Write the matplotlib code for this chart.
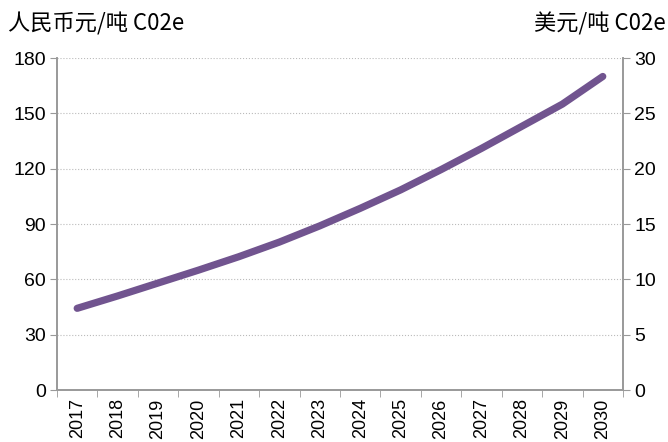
import matplotlib.pyplot as plt
import numpy as np

years = ['2017', '2018', '2019', '2020', '2021', '2022', '2023',
         '2024', '2025', '2026', '2027', '2028', '2029', '2030']
price_cny = [44.3, 51, 58, 65, 72.3, 80.2, 89, 98.5, 108.5, 119.5, 131, 143, 155, 170]
cny_ticks = [0, 30, 60, 90, 120, 150, 180]
usd_ticks = [0, 5, 10, 15, 20, 25, 30]

cjk = ['Noto Sans CJK SC', 'DejaVu Sans']
plt.rcParams['font.family'] = ['Liberation Sans', 'DejaVu Sans']

fig = plt.figure(figsize=(6.68, 4.42), dpi=100)
ax = fig.add_axes([0.0853, 0.1176, 0.8473, 0.7511])
x = np.arange(len(years))
ax.plot(x, price_cny, color='#71548f', linewidth=5.2, solid_capstyle='round',
        solid_joinstyle='round')

ax.set_xlim(-0.5, len(years) - 0.5)
ax.set_ylim(cny_ticks[0], cny_ticks[-1])
ax.set_yticks(cny_ticks)
ax.set_xticks(x)
ax.set_xticklabels(years, rotation=90)
ax.set_xticks(np.arange(len(years) + 1) - 0.5, minor=True)
ax.tick_params(axis='x', which='major', length=0, pad=6, labelsize=13)
ax.tick_params(axis='x', which='minor', length=5, color='#999999')
ax.tick_params(axis='y', length=5, color='#999999', labelsize=14, pad=3)
ax.grid(axis='y', color='#bbbbbb', linestyle=':', linewidth=0.8)

ax2 = ax.twinx()
ax2.set_ylim(usd_ticks[0], usd_ticks[-1])
ax2.set_yticks(usd_ticks)
ax2.tick_params(axis='y', length=5, color='#999999', labelsize=14, pad=3)

for a in (ax, ax2):
    a.spines['top'].set_visible(False)
    for s in ('left', 'right', 'bottom'):
        a.spines[s].set_color('#999999')
        a.spines[s].set_linewidth(1.2)

fig.text(0.012, 0.945, '人民币元/吨 C02e', family=cjk, fontsize=16, va='center', ha='left')
fig.text(0.996, 0.945, '美元/吨 C02e', family=cjk, fontsize=16, va='center', ha='right')

fig.savefig('out.png', dpi=100)
